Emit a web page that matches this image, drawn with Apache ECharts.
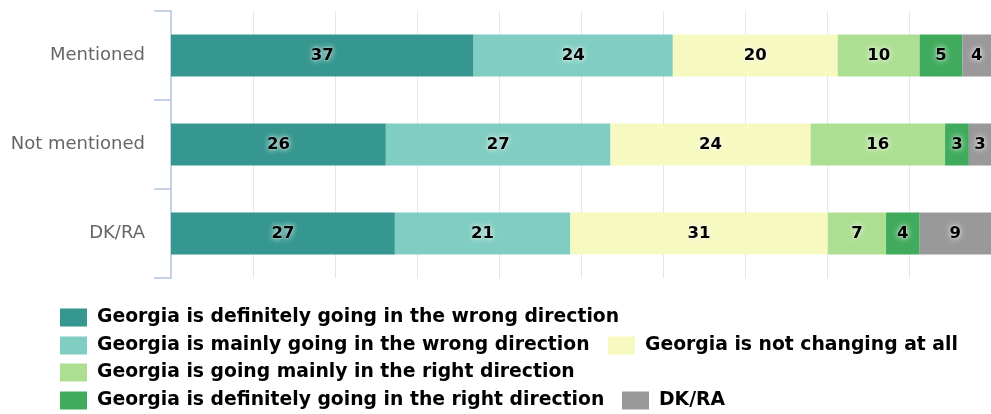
<!DOCTYPE html>
<html><head><meta charset="utf-8">
<script src="https://cdn.jsdelivr.net/npm/echarts@6/dist/echarts.min.js"></script>
<style>html,body{margin:0;padding:0;background:#fff}#c{width:991px;height:414px}</style>
</head><body><div id="c"></div>
<script>
const categories = ['Mentioned', 'Not mentioned', 'DK/RA'];
const seriesNames = [
  'Georgia is definitely going in the wrong direction',
  'Georgia is mainly going in the wrong direction',
  'Georgia is not changing at all',
  'Georgia is going mainly in the right direction',
  'Georgia is definitely going in the right direction',
  'DK/RA'
];
const defWrong   = [36.9, 26.2, 27.3];
const mainWrong  = [24.3, 27.4, 21.4];
const notChanging= [20.1, 24.4, 31.4];
const mainRight  = [10.0, 16.4, 7.1];
const defRight   = [5.2, 2.9, 4.1];
const dkra       = [3.5, 2.7, 8.7];
const xTicks = [0, 10, 20, 30, 40, 50, 60, 70, 80, 90, 100];

const values = [defWrong, mainWrong, notChanging, mainRight, defRight, dkra];
const colors = ['#35978f', '#80cdc1', '#f6f9c0', '#addf92', '#41ab5d', '#999999'];
const FONT = '"DejaVu Sans", Verdana, sans-serif';

const series = values.map((v, i) => ({
  name: seriesNames[i],
  type: 'bar',
  stack: 'all',
  barWidth: 42,
  data: v,
  itemStyle: { color: colors[i] },
  label: {
    show: true,
    position: 'inside',
    formatter: p => Math.round(p.value),
    fontFamily: FONT,
    fontWeight: 'bold',
    fontSize: 16.5,
    color: '#000',
    textBorderColor: 'rgba(255,255,255,0.3)',
    textBorderWidth: 1,
    textShadowColor: 'rgba(255,255,255,0.9)',
    textShadowBlur: 6
  },
  emphasis: { disabled: true }
}));

const legendPos = [
  [60, 308], [60, 336], [608, 336], [60, 363], [60, 391], [622, 391]
];
const legends = seriesNames.map((n, i) => ({
  data: [n],
  left: legendPos[i][0],
  top: legendPos[i][1],
  padding: 0,
  icon: 'rect',
  itemWidth: 27,
  itemHeight: 18,
  selectedMode: false,
  textStyle: { fontFamily: FONT, fontWeight: 'bold', fontSize: 18.8, color: '#000', padding: [0, 0, 0, 5] }
}));

const chart = echarts.init(document.getElementById('c'));
chart.setOption({
  animation: false,
  grid: { left: 171, right: -2, top: 11, bottom: 136, containLabel: false },
  xAxis: {
    type: 'value',
    min: xTicks[0],
    max: xTicks[xTicks.length - 1],
    interval: xTicks[1] - xTicks[0],
    axisLabel: { show: false },
    axisLine: { show: false },
    axisTick: { show: false },
    splitLine: { show: true, lineStyle: { color: '#e6e6e6', width: 1 } }
  },
  yAxis: {
    type: 'category',
    data: categories,
    inverse: true,
    axisLine: { show: true, lineStyle: { color: '#c3d2e6', width: 2 } },
    axisTick: { show: true, length: 17, lineStyle: { color: '#c3d2e6', width: 2 } },
    axisLabel: { margin: 26, fontFamily: FONT, fontSize: 18, color: '#666' }
  },
  legend: legends,
  series: series
});
</script>
</body></html>
